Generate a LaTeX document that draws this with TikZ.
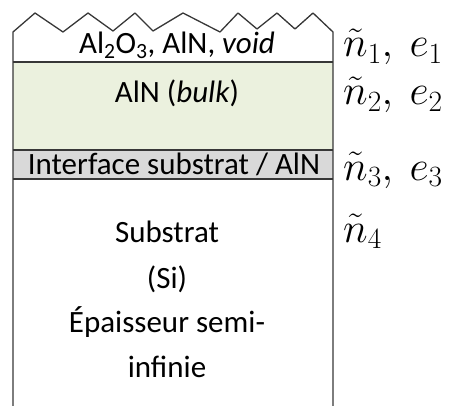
\RequirePackage{fix-cm}
\documentclass[tikz,border=0pt]{standalone}
\usepackage{amsmath,amssymb}
\usepackage{fontspec}
\setmainfont{Carlito}
\usepackage{xcolor}
\usepackage{tikz}
\usetikzlibrary{positioning}
\definecolor{aingreen}{RGB}{235,241,222}
\definecolor{ifgray}{RGB}{217,217,217}
\definecolor{edgegray}{RGB}{55,55,55}

\begin{document}
\begin{tikzpicture}[x=1pt,y=-1pt,
    layertext/.style={font=\fontsize{31}{37}\selectfont,inner sep=0pt,anchor=base},
    idxtext/.style={font=\fontsize{42}{46}\selectfont,inner sep=0pt,anchor=base west}]
  \useasboundingbox (0,0) rectangle (449,406);
  % layers
  \fill[aingreen] (13,62) rectangle (333,150);
  \fill[ifgray] (13,150) rectangle (333,179);
  \draw[edgegray,line width=1.3pt,line join=round]
    (13,406) -- (13,32) -- (35,13) -- (63,32) -- (88,13) -- (113,31) -- (135,13)
    -- (153,31) -- (183,13) -- (220,32) -- (238,13) -- (257,29) -- (277,13)
    -- (295,29) -- (313,13) -- (333,32) -- (333,406);
  \draw[edgegray,line width=1.3pt] (13,62) -- (333,62);
  \draw[edgegray,line width=1.3pt] (13,150) -- (333,150);
  \draw[edgegray,line width=1.3pt] (13,179) -- (333,179);
  % layer names
  \node[layertext] (top) at (177,54) {Al\textsubscript{2}O\textsubscript{3}, AlN, \textit{void}};
  \node[layertext] (bulk) at (177,103) {AlN (\textit{bulk})};
  \node[layertext] (iface) at (174,175) {Interface substrat / AlN};
  \node[layertext] (sub1) at (167,242) {Substrat};
  \node[layertext] (sub2) at (167,288) {(Si)};
  \node[layertext] (sub3) at (167,332) {Épaisseur semi-};
  \node[layertext] (sub4) at (167,377) {infinie};
  % indices
  \node[idxtext] (n1) at (343,57) {$\tilde{n}_1,\ e_1$};
  \node[idxtext] (n2) at (343,105) {$\tilde{n}_2,\ e_2$};
  \node[idxtext] (n3) at (343,180) {$\tilde{n}_3,\ e_3$};
  \node[idxtext] (n4) at (343,242) {$\tilde{n}_4$};
\end{tikzpicture}
\end{document}
